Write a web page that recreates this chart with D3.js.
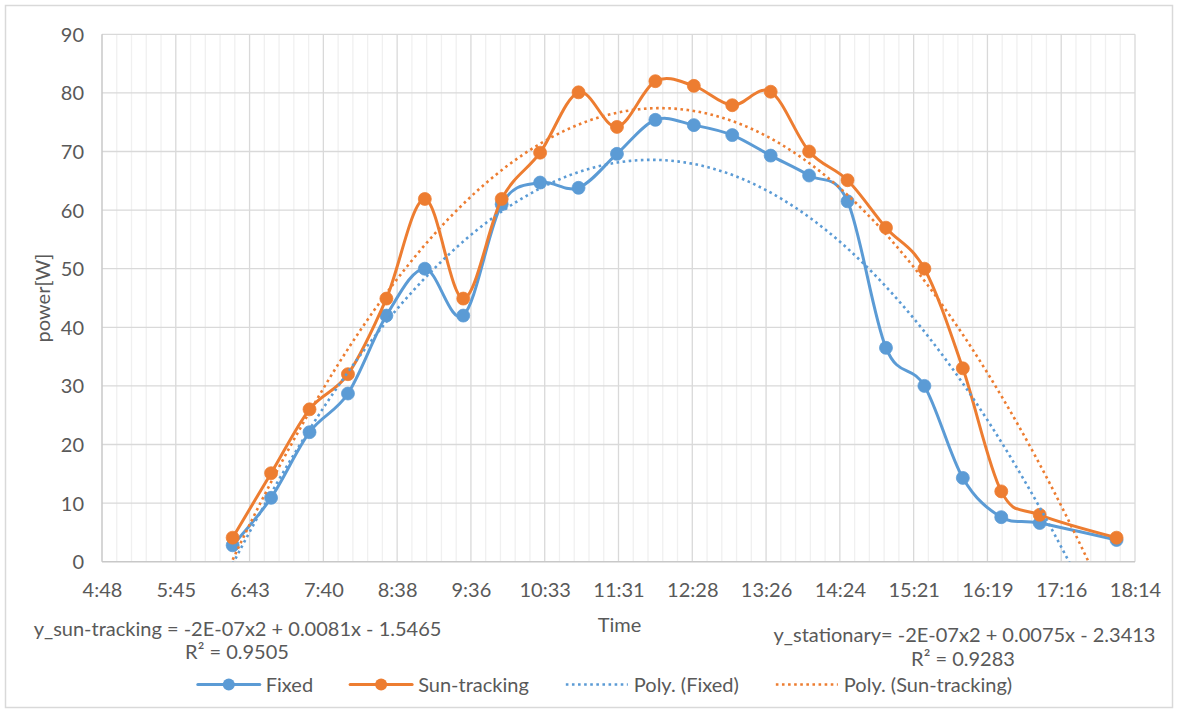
<!DOCTYPE html>
<html><head><meta charset="utf-8">
<script src="https://cdn.jsdelivr.net/npm/d3@7"></script>
<style>
body{margin:0;background:#fff}
text{font-family:Lato, "Open Sans", sans-serif;fill:#595959}
</style>
</head><body>
<svg id="c" width="1179" height="714"></svg>
<script>
// ---- data ----
const times = ["6:30","7:00","7:30","8:00","8:30","9:00","9:30","10:00","10:30","11:00","11:30","12:00",
               "12:30","13:00","13:30","14:00","14:30","15:00","15:30","16:00","16:30","17:00","18:00"];
const fixed = [2.8,10.9,22.1,28.7,42.0,50.0,42.0,61.0,64.7,63.8,69.6,75.4,74.5,72.8,69.3,65.9,61.5,36.5,30.0,14.3,7.6,6.6,3.7];
const sunTracking = [4.1,15.1,26.0,32.0,44.9,61.9,44.9,61.9,69.8,80.1,74.2,82.0,81.2,77.9,80.2,70.0,65.1,57.0,50.0,33.0,12.0,8.0,4.1];
const xTickValues = [0.20,0.24,0.28,0.32,0.36,0.40,0.44,0.48,0.52,0.56,0.60,0.64,0.68,0.72,0.76];
const xTickLabels = ["4:48","5:45","6:43","7:40","8:38","9:36","10:33","11:31","12:28","13:26","14:24","15:21","16:19","17:16","18:14"];
const yTicks = [0,10,20,30,40,50,60,70,80,90];
const seriesNames = ["Fixed","Sun-tracking"];
const trendNames = ["Poly. (Fixed)","Poly. (Sun-tracking)"];
const eqSun = ["y_sun-tracking = -2E-07x2 + 0.0081x - 1.5465","R\u00B2 = 0.9505"];
const eqFixed = ["y_stationary= -2E-07x2 + 0.0075x - 2.3413","R\u00B2 = 0.9283"];
const colors = ["#5B9BD5","#ED7D31"];

// ---- setup ----
const svg = d3.select("#c");
const W = 1179, H = 714;
const P = {l:102, r:1135, t:34.3, b:561.7};
const FS = 20;
svg.append("rect").attr("x",5.5).attr("y",5.5).attr("width",W-12).attr("height",H-12)
   .attr("fill","#fff").attr("stroke","#d9d9d9").attr("stroke-width",1.5);

const toDay = s => { const [h,m] = s.split(":").map(Number); return (h*60+m)/1440; };
const xs = times.map(toDay);
const x = d3.scaleLinear().domain([0.2,0.76]).range([P.l,P.r]);
const y = d3.scaleLinear().domain([0,90]).range([P.b,P.t]);

// minor vertical gridlines
const minor = d3.range(0.2,0.7601,0.008).filter(v=>!xTickValues.some(t=>Math.abs(t-v)<1e-6));
svg.append("g").selectAll("line").data(minor).join("line")
  .attr("x1",d=>x(d)).attr("x2",d=>x(d)).attr("y1",P.t).attr("y2",P.b)
  .attr("stroke","#f0f0f0").attr("stroke-width",1.3);
// major vertical gridlines
svg.append("g").selectAll("line").data(xTickValues.slice(1)).join("line")
  .attr("x1",d=>x(d)).attr("x2",d=>x(d)).attr("y1",P.t).attr("y2",P.b)
  .attr("stroke","#d9d9d9").attr("stroke-width",1.3);
// horizontal gridlines
svg.append("g").selectAll("line").data(yTicks.slice(1)).join("line")
  .attr("x1",P.l).attr("x2",P.r).attr("y1",d=>y(d)).attr("y2",d=>y(d))
  .attr("stroke","#d9d9d9").attr("stroke-width",1.3);
// axis lines
svg.append("line").attr("x1",P.l).attr("x2",P.l).attr("y1",P.t).attr("y2",P.b).attr("stroke","#c8c8c8").attr("stroke-width",1.5);
svg.append("line").attr("x1",P.l).attr("x2",P.r).attr("y1",P.b).attr("y2",P.b).attr("stroke","#c8c8c8").attr("stroke-width",1.5);

// axes labels via d3 axes
const xAxis = d3.axisBottom(x).tickValues(xTickValues).tickFormat((d,i)=>xTickLabels[i]).tickSize(0).tickPadding(0);
const gx = svg.append("g").attr("transform",`translate(0,${P.b})`).call(xAxis);
gx.select(".domain").remove();
gx.selectAll("text").attr("dy",null).attr("y",35).style("font-size",FS+"px").attr("fill","#595959");
const yAxis = d3.axisLeft(y).tickValues(yTicks).tickSize(0).tickPadding(0);
const gy = svg.append("g").attr("transform",`translate(84,0)`).call(yAxis);
gy.select(".domain").remove();
gy.selectAll("text").attr("dy","0.35em").attr("x",0).style("font-size",FS+"px").attr("fill","#595959");
gx.attr("font-family",null); gy.attr("font-family",null);

// axis titles
svg.append("text").attr("transform",`translate(50,${(P.t+P.b)/2}) rotate(-90)`)
  .attr("text-anchor","middle").style("font-size",FS+"px").text("power[W]");
svg.append("text").attr("x",619.5).attr("y",631.7).attr("text-anchor","middle").style("font-size",FS+"px").text("Time");

// equations
svg.append("text").attr("x",237.5).attr("y",635.5).attr("text-anchor","middle").style("font-size",FS+"px").text(eqSun[0]);
svg.append("text").attr("x",237).attr("y",659).attr("text-anchor","middle").style("font-size",FS+"px").text(eqSun[1]);
svg.append("text").attr("x",964.5).attr("y",641.7).attr("text-anchor","middle").style("font-size",FS+"px").text(eqFixed[0]);
svg.append("text").attr("x",963).attr("y",665.7).attr("text-anchor","middle").style("font-size",FS+"px").text(eqFixed[1]);

// clip
svg.append("clipPath").attr("id","clip").append("rect")
  .attr("x",P.l).attr("y",P.t).attr("width",P.r-P.l).attr("height",P.b-P.t);

// series
const line = d3.line().x(d=>x(d[0])).y(d=>y(d[1])).curve(d3.curveCardinal.tension(0));
const data = [fixed, sunTracking];
const lineG = svg.append("g");
data.forEach((vals,i)=>{
  const pts = xs.map((t,k)=>[t,vals[k]]);
  const g = lineG.append("g");
  g.append("path").datum(pts).attr("d",line).attr("fill","none")
   .attr("stroke",colors[i]).attr("stroke-width",3).attr("stroke-linejoin","round").attr("stroke-linecap","round");
  g.selectAll("circle").data(pts).join("circle").attr("cx",d=>x(d[0])).attr("cy",d=>y(d[1]))
   .attr("r",6.5).attr("fill",colors[i]).attr("stroke",colors[i]).attr("stroke-width",0.75);
});

// quadratic least squares trendlines
function quadFit(xv, yv){
  const m = d3.mean(xv);
  const u = xv.map(v=>v-m);
  let S=[0,0,0,0,0], T=[0,0,0];
  u.forEach((a,k)=>{ let p=1; for(let j=0;j<5;j++){S[j]+=p; if(j<3) T[j]+=p*yv[k]; p*=a;} });
  const A=[[S[0],S[1],S[2]],[S[1],S[2],S[3]],[S[2],S[3],S[4]]];
  const b=T.slice();
  for(let i=0;i<3;i++){ for(let r=i+1;r<3;r++){ const f=A[r][i]/A[i][i]; for(let c=i;c<3;c++) A[r][c]-=f*A[i][c]; b[r]-=f*b[i]; } }
  const c=[0,0,0];
  for(let i=2;i>=0;i--){ let s=b[i]; for(let j=i+1;j<3;j++) s-=A[i][j]*c[j]; c[i]=s/A[i][i]; }
  return t => c[0] + c[1]*(t-m) + c[2]*(t-m)*(t-m);
}
const trendG = svg.append("g").attr("clip-path","url(#clip)");
const tline = d3.line().x(d=>x(d[0])).y(d=>y(d[1]));
data.forEach((vals,i)=>{
  const f = quadFit(xs, vals);
  const samp = d3.range(0,201).map(k=>{ const t = xs[0] + (xs[xs.length-1]-xs[0])*k/200; return [t,f(t)]; });
  trendG.append("path").datum(samp).attr("d",tline).attr("fill","none")
    .attr("stroke",colors[i]).attr("stroke-width",2.6).attr("stroke-dasharray","2.6,3.5");
});

// legend
const lg = svg.append("g");
const LY = 684.5, lineW = 62, gapT = 6, gapI = 37;
const items = [
  {name:seriesNames[0], c:colors[0], dot:false},
  {name:seriesNames[1], c:colors[1], dot:false},
  {name:trendNames[0], c:colors[0], dot:true},
  {name:trendNames[1], c:colors[1], dot:true}
];
const widths = items.map(it=>{
  const t = lg.append("text").style("font-size",FS+"px").text(it.name);
  const w = t.node().getComputedTextLength(); t.remove(); return w;
});
const total = d3.sum(widths) + items.length*(lineW+gapT) + (items.length-1)*gapI;
let cx = 605 - total/2;
items.forEach((it,i)=>{
  const g = lg.append("g");
  const l = g.append("line").attr("x1",cx).attr("x2",cx+lineW).attr("y1",LY).attr("y2",LY).attr("stroke",it.c);
  if(it.dot){ l.attr("stroke-width",2.6).attr("stroke-dasharray","2.6,3.5"); }
  else {
    l.attr("stroke-width",3).attr("stroke-linecap","round");
    g.append("circle").attr("cx",cx+lineW/2).attr("cy",LY).attr("r",6).attr("fill",it.c);
  }
  g.append("text").attr("x",cx+lineW+gapT).attr("y",LY).attr("dy","0.35em").style("font-size",FS+"px").text(it.name);
  cx += lineW + gapT + widths[i] + gapI;
});
</script>
</body></html>
